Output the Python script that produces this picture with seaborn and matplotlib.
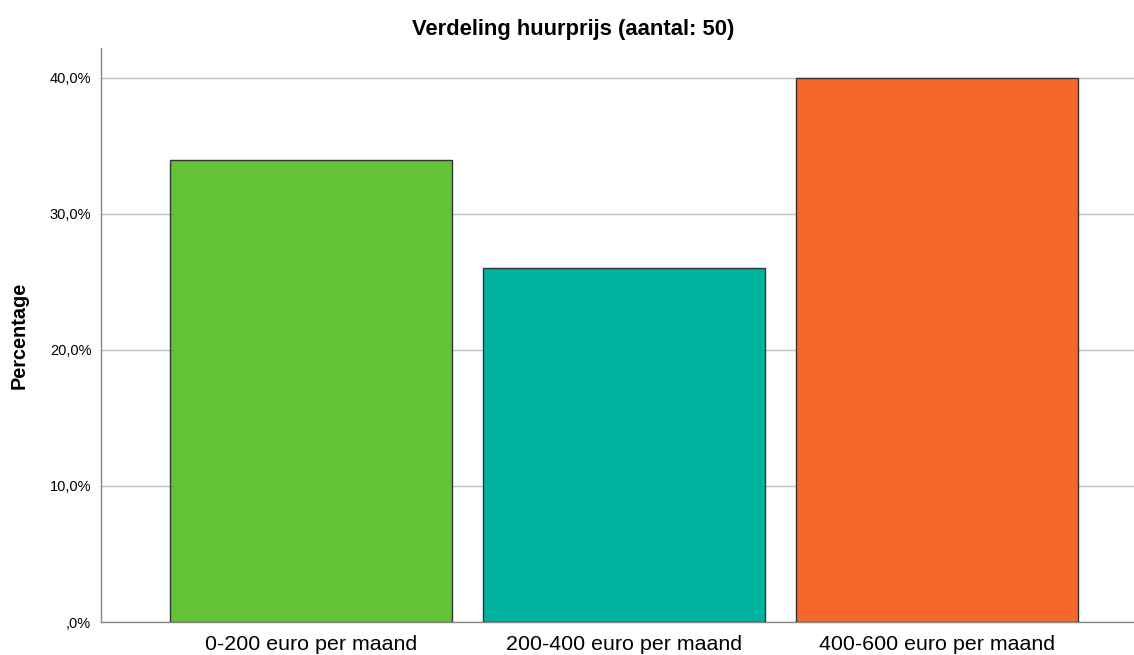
import pandas as pd
import matplotlib.pyplot as plt
import seaborn as sns

categories = ["0-200 euro per maand", "200-400 euro per maand", "400-600 euro per maand"]
percentages = [34.0, 26.0, 40.0]
colors = ["#62c337", "#00b39f", "#f4682c"]
yticks = [0, 10, 20, 30, 40]
ytick_labels = [",0%", "10,0%", "20,0%", "30,0%", "40,0%"]

df = pd.DataFrame({"huurprijs": categories, "pct": percentages})

sns.set_style("white")
plt.rcParams['font.family'] = ['Liberation Sans', 'DejaVu Sans']
plt.rcParams['text.color'] = 'black'
plt.rcParams['xtick.color'] = 'black'
plt.rcParams['ytick.color'] = 'black'
plt.rcParams['axes.labelcolor'] = 'black'

fig = plt.figure(figsize=(11.34, 6.55), dpi=100)
ax = fig.add_axes([101 / 1134, 33 / 655, 1 - 101 / 1134, 574 / 655])
sns.barplot(data=df, x="huurprijs", y="pct", hue="huurprijs", palette=colors,
            saturation=1, width=0.9, edgecolor="#333333", linewidth=1,
            legend=False, ax=ax, zorder=3)

ax.set_xlim(-0.671, 2.63)
ax.set_ylim(0, 42.2)
ax.set_yticks(yticks)
ax.set_yticklabels(ytick_labels, fontsize=10.5)
ax.tick_params(axis="x", labelsize=15.4, length=0, pad=9)
ax.tick_params(axis="y", length=0, pad=7)
ax.yaxis.grid(True, color="#c0c0c0", linewidth=1, zorder=0)
ax.set_axisbelow(True)
for s in ["top", "right"]:
    ax.spines[s].set_visible(False)
for s in ["left", "bottom"]:
    ax.spines[s].set_color("#888888")
    ax.spines[s].set_linewidth(1)

ax.set_xlabel("")
ax.set_ylabel("Percentage", fontsize=14.3, fontweight="bold", labelpad=15)
fig.text(573 / 1134, 1 - 29 / 655, "Verdeling huurprijs (aantal: 50)",
         ha="center", va="center", fontsize=15.8, fontweight="bold")

fig.savefig("out.png", dpi=100)
